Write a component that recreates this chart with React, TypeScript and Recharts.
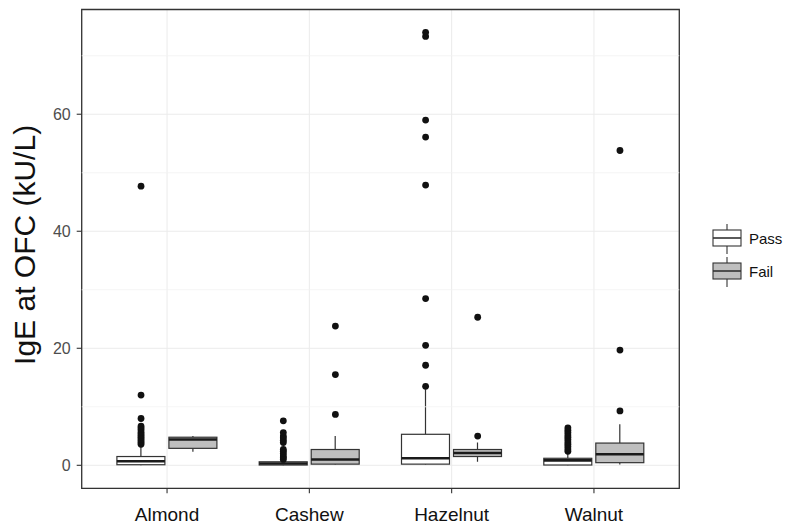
import { Bar, CartesianGrid, ComposedChart, ReferenceArea, ReferenceLine, Scatter, XAxis, YAxis } from 'recharts'

const NUTS = ['Almond', 'Cashew', 'Hazelnut', 'Walnut']

// [lower whisker, q1, median, q3, upper whisker] in kU/L
const PASS_BOX = [
  [0.0, 0.1, 0.7, 1.5, 3.3],
  [0.0, 0.05, 0.3, 0.6, 0.9],
  [0.1, 0.2, 1.2, 5.3, 13.0],
  [0.0, 0.05, 0.85, 1.2, 2.0],
]
const FAIL_BOX = [
  [2.3, 2.9, 4.4, 4.8, 5.0],
  [0.1, 0.2, 1.0, 2.7, 5.0],
  [0.6, 1.5, 2.1, 2.7, 3.9],
  [0.15, 0.45, 1.9, 3.8, 7.0],
]

const PASS_OUTLIERS = [
  [3.6, 3.9, 4.2, 4.5, 4.8, 5.1, 5.4, 5.7, 6.1, 6.4, 6.7, 8.0, 12.0, 47.7],
  [1.0, 1.3, 1.6, 2.0, 2.4, 2.7, 3.9, 4.3, 4.7, 5.0, 5.6, 7.6],
  [13.5, 17.1, 20.5, 28.5, 47.9, 56.1, 59.0, 73.3, 74.0],
  [2.4, 2.8, 3.2, 3.6, 4.0, 4.4, 4.8, 5.2, 5.6, 6.0, 6.4],
]
const FAIL_OUTLIERS = [[], [8.7, 15.5, 23.8], [5.0, 25.3], [9.3, 19.7, 53.8]]

const Y_TICKS = [0, 20, 40, 60]
const Y_MINOR = [10, 30, 50, 70]
const Y_DOMAIN: [number, number] = [-3.93, 77.9]
const X_DOMAIN: [number, number] = [0.4, 4.6]

const FONT = '"Liberation Sans", Arial, Helvetica, sans-serif'
const INK = '#333333'
const FAIL_FILL = '#bfbfbf'
const DODGE = 0.183

const rows = NUTS.map((nut, i) => ({
  nut,
  pass: [PASS_BOX[i][0], PASS_BOX[i][4]],
  fail: [FAIL_BOX[i][0], FAIL_BOX[i][4]],
  passStats: PASS_BOX[i],
  failStats: FAIL_BOX[i],
}))

const outliers = NUTS.flatMap((_, i) => [
  ...PASS_OUTLIERS[i].map((v) => ({ x: i + 1 - DODGE, y: v })),
  ...FAIL_OUTLIERS[i].map((v) => ({ x: i + 1 + DODGE, y: v })),
])

function boxShape(statsKey: 'passStats' | 'failStats', fill: string) {
  return (props: any) => {
    const { x, y, width, height, payload } = props
    const s: number[] = payload[statsKey]
    const top = Math.min(y, y + height)
    const h = Math.abs(height)
    const lo = s[0]
    const hi = s[4]
    const yOf = (v: number) => top + ((hi - v) / (hi - lo)) * h
    const cx = x + width / 2
    return (
      <g>
        <line x1={cx} x2={cx} y1={yOf(hi)} y2={yOf(s[3])} stroke={INK} strokeWidth={1.2} />
        <line x1={cx} x2={cx} y1={yOf(s[1])} y2={yOf(lo)} stroke={INK} strokeWidth={1.2} />
        <rect x={x} y={yOf(s[3])} width={width} height={Math.max(yOf(s[1]) - yOf(s[3]), 0.5)} fill={fill} stroke={INK} strokeWidth={1.2} />
        <line x1={x} x2={x + width} y1={yOf(s[2])} y2={yOf(s[2])} stroke="#1a1a1a" strokeWidth={2.6} />
      </g>
    )
  }
}

function LegendKey({ fill }: { fill: string }) {
  return (
    <svg width={32} height={30} style={{ display: 'block' }}>
      <line x1={16} x2={16} y1={0} y2={30} stroke={INK} strokeWidth={1.1} />
      <rect x={2} y={6} width={28} height={16} fill={fill} stroke={INK} strokeWidth={1.1} />
      <line x1={2} x2={30} y1={14} y2={14} stroke={INK} strokeWidth={1.6} />
    </svg>
  )
}

export default function App() {
  return (
    <div style={{ position: 'absolute', left: 0, top: 0, width: 788, height: 529, background: '#fff', fontFamily: FONT }}>
      <ComposedChart
        width={788}
        height={529}
        data={rows}
        margin={{ top: 9.5, right: 108.7, bottom: 0, left: 0 }}
        barSize={48}
        barGap={4}
      >
        <CartesianGrid stroke="#ebebeb" strokeWidth={1} />
        {Y_MINOR.map((v) => (
          <ReferenceLine key={v} y={v} stroke="#f2f2f2" strokeWidth={0.8} />
        ))}
        <XAxis
          dataKey="nut"
          type="category"
          padding={{ left: 14.2, right: 14.2 }}
          axisLine={false}
          tickLine={{ stroke: INK, strokeWidth: 1.1 }}
          tickSize={5}
          tickMargin={14}
          height={40.7}
          tick={{ fontSize: 19, fill: '#111', fontFamily: FONT }}
        />
        <XAxis xAxisId="pts" dataKey="x" type="number" domain={X_DOMAIN} allowDataOverflow hide />
        <YAxis
          domain={Y_DOMAIN}
          ticks={Y_TICKS}
          allowDataOverflow
          width={81.7}
          axisLine={false}
          tickLine={{ stroke: INK, strokeWidth: 1.1 }}
          tickSize={5}
          tickMargin={6}
          tick={{ fontSize: 16, fill: '#4d4d4d', fontFamily: FONT }}
          label={{
            value: 'IgE at OFC (kU/L)',
            angle: -90,
            position: 'insideLeft',
            offset: 0,
            dx: 24,
            dy: -4,
            style: { fontSize: 30, fill: '#111', fontFamily: FONT, textAnchor: 'middle' },
          }}
        />
        <Bar dataKey="pass" name="Pass" shape={boxShape('passStats', '#ffffff')} isAnimationActive={false} />
        <Bar dataKey="fail" name="Fail" shape={boxShape('failStats', FAIL_FILL)} isAnimationActive={false} />
        <Scatter
          data={outliers}
          xAxisId="pts"
          dataKey="y"
          isAnimationActive={false}
          shape={(p: any) => <circle cx={p.cx} cy={p.cy} r={3.4} fill="#111" />}
        />
        <ReferenceArea
          xAxisId="pts"
          x1={X_DOMAIN[0]}
          x2={X_DOMAIN[1]}
          y1={Y_DOMAIN[0]}
          y2={Y_DOMAIN[1]}
          fill="none"
          stroke={INK}
          strokeWidth={1.3}
          ifOverflow="visible"
        />
      </ComposedChart>

      <div style={{ position: 'absolute', left: 711, top: 222, fontSize: 15, color: '#111' }}>
        {[
          { label: 'Pass', fill: '#ffffff' },
          { label: 'Fail', fill: FAIL_FILL },
        ].map((item) => (
          <div key={item.label} style={{ display: 'flex', alignItems: 'center', height: 33 }}>
            <LegendKey fill={item.fill} />
            <span style={{ marginLeft: 6 }}>{item.label}</span>
          </div>
        ))}
      </div>
    </div>
  )
}
